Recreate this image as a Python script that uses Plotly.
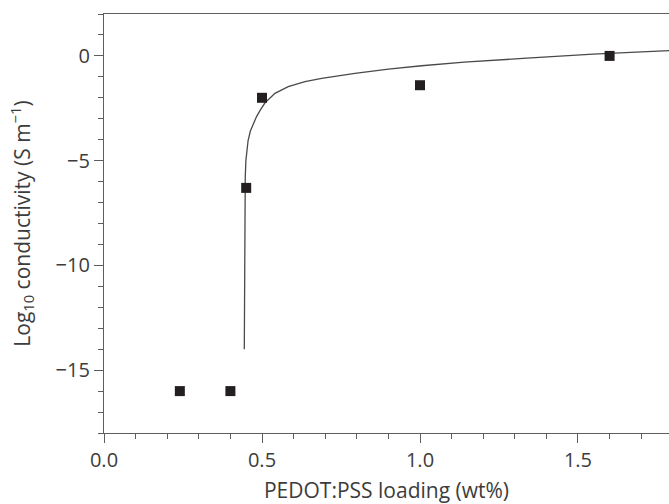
import plotly.graph_objects as go

# Measured data points
loading = [0.24, 0.40, 0.45, 0.50, 1.00, 1.60]
log_cond = [-16.0, -16.0, -6.3, -2.0, -1.4, 0.0]

# Fit curve
curve_x = [0.4440, 0.4442, 0.4446, 0.4452, 0.4460, 0.4470, 0.4490, 0.4520, 0.4560,
           0.4630, 0.4720, 0.4820, 0.4940, 0.5090, 0.5410, 0.5830, 0.6360, 0.6890,
           0.7940, 0.9000, 1.0050, 1.1400, 1.3380, 1.5480, 1.7880]
curve_y = [-14.0, -12.0, -10.0, -8.3, -6.9, -5.8, -5.0, -4.5, -4.04,
           -3.6, -3.25, -2.92, -2.6, -2.25, -1.79, -1.47, -1.23, -1.07,
           -0.83, -0.63, -0.47, -0.30, -0.11, 0.08, 0.25]

x_ticks = [0.0, 0.5, 1.0, 1.5]
x_ticktext = ["0.0", "0.5", "1.0", "1.5"]
y_ticks = [0, -5, -10, -15]
y_ticktext = ["0", "\u22125", "\u221210", "\u221215"]

axis_col = "#5e5e5e"
text_col = "#3c3c3c"
font_family = "Open Sans, Noto Sans, sans-serif"

fig = go.Figure()
fig.add_trace(go.Scatter(x=curve_x, y=curve_y, mode="lines",
                         line=dict(color="#4a4a4a", width=1.3),
                         hoverinfo="skip", showlegend=False))
fig.add_trace(go.Scatter(x=loading, y=log_cond, mode="markers",
                         marker=dict(symbol="square", size=10, color="#231f20",
                                     line=dict(width=0)),
                         showlegend=False))

fig.update_layout(
    width=669, height=504,
    margin=dict(l=104, r=0, t=14, b=71),
    paper_bgcolor="white", plot_bgcolor="white",
    font=dict(family=font_family, size=20, color=text_col),
    xaxis=dict(
        range=[0, 1.788], showgrid=False, zeroline=False,
        showline=True, linecolor=axis_col, linewidth=1.2, mirror=True,
        ticks="outside", ticklen=9, tickwidth=1.2, tickcolor=axis_col,
        tickvals=x_ticks, ticktext=x_ticktext,
        tickfont=dict(size=20, color=text_col),
        minor=dict(dtick=0.1, tick0=0, ticks="outside", ticklen=5,
                   tickwidth=1.2, tickcolor=axis_col, showgrid=False),
        title=dict(text="PEDOT:PSS loading (wt%)", standoff=13,
                   font=dict(size=21, color=text_col)),
        automargin=False,
    ),
    yaxis=dict(
        range=[-18, 2], showgrid=False, zeroline=False,
        showline=True, linecolor=axis_col, linewidth=1.2,
        ticks="outside", ticklen=9, tickwidth=1.2, tickcolor=axis_col,
        tickvals=y_ticks, ticktext=y_ticktext,
        tickfont=dict(size=20, color=text_col),
        minor=dict(dtick=1, tick0=0, ticks="outside", ticklen=5,
                   tickwidth=1.2, tickcolor=axis_col, showgrid=False),
        title=dict(text="Log<sub>10</sub> conductivity (S m<sup>\u22121</sup>)",
                   standoff=19, font=dict(size=21, color=text_col)),
        automargin=False,
    ),
)

fig.write_html("out.html")
